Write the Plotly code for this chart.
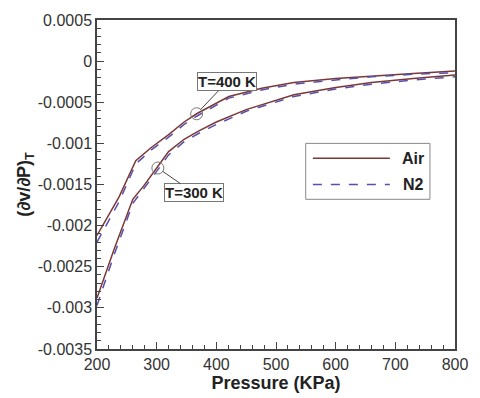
import plotly.graph_objects as go

# T = 400 K
p400 = [200, 237, 265, 291, 319, 346, 367, 421, 476, 530, 600, 660, 730, 800]
air400 = [-0.00212, -0.00165, -0.00121, -0.00105, -0.00090, -0.00074, -0.00064,
          -0.00043, -0.00033, -0.00026, -0.00021, -0.00018, -0.00015, -0.00012]
n2400 = [-0.00220, -0.00171, -0.00125, -0.00108, -0.00093, -0.00077, -0.00067,
         -0.00045, -0.00035, -0.00028, -0.00023, -0.00019, -0.00016, -0.00014]
# T = 300 K
p300 = [200, 229, 260, 278, 300, 320, 346, 370, 400, 450, 530, 600, 660, 730, 800]
air300 = [-0.00288, -0.00228, -0.00168, -0.00152, -0.00130, -0.00110, -0.00095,
          -0.00085, -0.00074, -0.00059, -0.00041, -0.00032, -0.00026, -0.00021, -0.00017]
n2300 = [-0.00297, -0.00235, -0.00173, -0.00156, -0.00134, -0.00114, -0.00098,
         -0.00088, -0.00077, -0.00061, -0.00043, -0.00034, -0.00028, -0.00023, -0.00019]

# annotation points
circ_p = [367, 302]
circ_v = [-0.00064, -0.00130]
labels = ["T=400 K", "T=300 K"]
label_p = [418, 362]
label_v = [-0.00025, -0.00160]

series_names = ["Air", "N2"]

yticks = [0.0005, 0, -0.0005, -0.001, -0.0015, -0.002, -0.0025, -0.003, -0.0035]
yticktext = ["0.0005", "0", "-0.0005", "-0.001", "-0.0015", "-0.002", "-0.0025", "-0.003", "-0.0035"]
xticks = [200, 300, 400, 500, 600, 700, 800]

air_col = "#7a3838"
n2_col = "#5850a8"
FONT = "Liberation Sans, Arial"

fig = go.Figure()
fig.add_trace(go.Scatter(x=p400, y=air400, mode="lines", name="Air", showlegend=False,
                         line=dict(color=air_col, width=1.5)))
fig.add_trace(go.Scatter(x=p300, y=air300, mode="lines", name="Air", showlegend=False,
                         line=dict(color=air_col, width=1.5)))
fig.add_trace(go.Scatter(x=p400, y=n2400, mode="lines", name="N2", showlegend=False,
                         line=dict(color=n2_col, width=1.5, dash="dash")))
fig.add_trace(go.Scatter(x=p300, y=n2300, mode="lines", name="N2", showlegend=False,
                         line=dict(color=n2_col, width=1.5, dash="dash")))
fig.add_trace(go.Scatter(x=circ_p, y=circ_v, mode="markers", showlegend=False,
                         marker=dict(symbol="circle-open", size=12, color="#777777",
                                     line=dict(width=1))))

for cp, cv, lt, lp, lv in zip(circ_p, circ_v, labels, label_p, label_v):
    fig.add_annotation(x=cp, y=cv, ax=lp, ay=lv, axref="x", ayref="y",
                       text="<b>" + lt + "</b>", showarrow=True, arrowhead=0,
                       arrowwidth=1, arrowcolor="#444444", standoff=6,
                       font=dict(family=FONT, size=15, color="#222222"),
                       bgcolor="white", bordercolor="#777777", borderwidth=1, borderpad=0)

# custom legend box (paper coords)
lx0, lx1, ly0, ly1 = 0.583, 0.93, 0.455, 0.625
fig.add_shape(type="rect", xref="paper", yref="paper", x0=lx0, x1=lx1, y0=ly0, y1=ly1,
              line=dict(color="#888888", width=1), fillcolor="white", layer="above")
leg_styles = [dict(color=air_col, width=1.5), dict(color=n2_col, width=1.5, dash="dash")]
leg_y = [0.580, 0.500]
for nm, st, yy in zip(series_names, leg_styles, leg_y):
    fig.add_shape(type="line", xref="paper", yref="paper", x0=lx0 + 0.02, x1=lx0 + 0.235,
                  y0=yy, y1=yy, line=st, layer="above")
    fig.add_annotation(xref="paper", yref="paper", x=lx1 - 0.01, y=yy, xanchor="right",
                       yanchor="middle", text="<b>" + nm + "</b>", showarrow=False,
                       font=dict(family=FONT, size=16, color="#222222"))

axis_common = dict(showgrid=False, zeroline=False, showline=True, linecolor="#444444",
                   linewidth=1.5, mirror=True, ticks="inside", tickcolor="#444444",
                   ticklen=7, tickwidth=1, ticklabeloverflow="allow",
                   tickfont=dict(family=FONT, size=16, color="#333333"))

fig.update_xaxes(range=[200, 800], tickvals=xticks,
                 minor=dict(ticks="inside", ticklen=4, dtick=20, tickcolor="#444444", showgrid=False),
                 title=dict(text="<b>Pressure (KPa)</b>", standoff=0,
                            font=dict(family=FONT, size=18, color="#222222")),
                 **axis_common)
fig.update_yaxes(range=[-0.0035, 0.0005], tickvals=yticks, ticktext=yticktext,
                 minor=dict(ticks="inside", ticklen=4, dtick=0.0001, tickcolor="#444444", showgrid=False),
                 title=dict(text="<b>(∂v/∂P)<sub>T</sub></b>", standoff=2,
                            font=dict(family=FONT, size=18, color="#222222")),
                 **axis_common)

fig.update_layout(
    width=480, height=398,
    margin=dict(l=97, r=12, t=16, b=45),
    paper_bgcolor="white", plot_bgcolor="white",
    showlegend=False,
)

fig.write_html("out.html")
